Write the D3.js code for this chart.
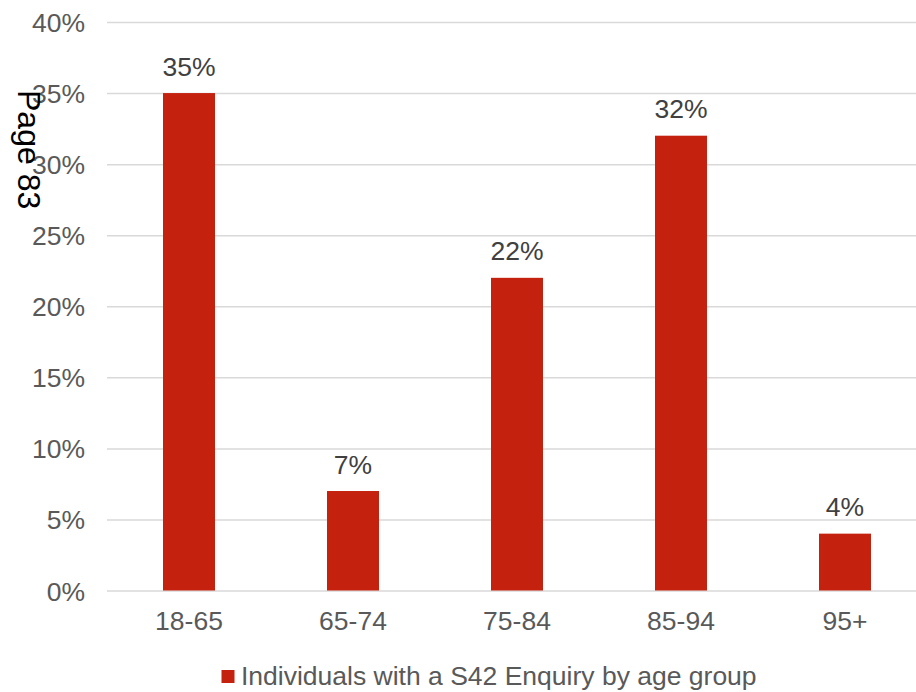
<!DOCTYPE html>
<html>
<head>
<meta charset="utf-8">
<script src="https://cdn.jsdelivr.net/npm/d3@7"></script>
<style>
  html, body { margin: 0; padding: 0; background: #fff; overflow: hidden; }
  svg { display: block; font-family: "Liberation Sans", Arial, sans-serif; }
</style>
</head>
<body>
<svg id="chart" width="916" height="692"></svg>
<script>
// Share of individuals with a S42 enquiry, by age group
const ageGroups = ["18-65", "65-74", "75-84", "85-94", "95+"];
const shares = [0.35, 0.07, 0.22, 0.32, 0.04];
const yTicks = [0, 0.05, 0.10, 0.15, 0.20, 0.25, 0.30, 0.35, 0.40];
const seriesName = "Individuals with a S42 Enquiry by age group";
const pageLabel = "Page 83";

const svg = d3.select("#chart");
const barColor = "#c5210f";
const gridColor = "#d9d9d9";
const tickColor = "#595959";
const fontSize = 26.5;

const x = d3.scaleBand()
  .domain(ageGroups)
  .range([107, 927])
  .paddingInner(0.683)
  .paddingOuter(0.3415);

const y = d3.scaleLinear()
  .domain([0, 0.4])
  .range([590.5, 22]);

const pct = d3.format(".0%");

// Horizontal gridlines and y-axis labels
const yAxis = d3.axisLeft(y)
  .tickValues(yTicks)
  .tickFormat(pct)
  .tickSize(-(927 - 107))
  .tickPadding(22);

const gy = svg.append("g")
  .attr("transform", "translate(107,0)")
  .call(yAxis);
gy.select(".domain").remove();
gy.selectAll(".tick line")
  .attr("stroke", gridColor)
  .attr("stroke-width", 1.5);
gy.selectAll(".tick text")
  .attr("fill", tickColor)
  .attr("font-size", fontSize)
  .attr("font-family", "'Liberation Sans', Arial, sans-serif")
  .attr("dy", "0.36em");

// Bars
svg.append("g")
  .selectAll("rect")
  .data(ageGroups.map((g, i) => ({ g, v: shares[i] })))
  .join("rect")
  .attr("x", d => x(d.g))
  .attr("width", x.bandwidth())
  .attr("y", d => y(d.v))
  .attr("height", d => y(0) - y(d.v))
  .attr("fill", barColor);

// Value labels above the bars
svg.append("g")
  .selectAll("text")
  .data(ageGroups.map((g, i) => ({ g, v: shares[i] })))
  .join("text")
  .attr("x", d => x(d.g) + x.bandwidth() / 2)
  .attr("y", d => y(d.v) - 17.5)
  .attr("text-anchor", "middle")
  .attr("font-size", fontSize)
  .attr("fill", "#404040")
  .text(d => pct(d.v));

// Category axis labels
const xAxis = d3.axisBottom(x).tickSize(0).tickPadding(21);
const gx = svg.append("g")
  .attr("transform", `translate(0,${y(0)})`)
  .call(xAxis);
gx.select(".domain").remove();
gx.selectAll(".tick text")
  .attr("fill", tickColor)
  .attr("font-size", fontSize)
  .attr("font-family", "'Liberation Sans', Arial, sans-serif");

// Legend
const legend = svg.append("g").attr("transform", "translate(221.5,670)");
legend.append("rect")
  .attr("width", 13).attr("height", 13)
  .attr("fill", barColor);
legend.append("text")
  .attr("x", 19.5)
  .attr("y", 15)
  .attr("font-size", fontSize)
  .attr("fill", tickColor)
  .text(seriesName);

// Rotated page marker at the left edge
svg.append("text")
  .attr("transform", "translate(18,90) rotate(90)")
  .attr("font-size", 32)
  .attr("fill", "#000")
  .text(pageLabel);
</script>
</body>
</html>
